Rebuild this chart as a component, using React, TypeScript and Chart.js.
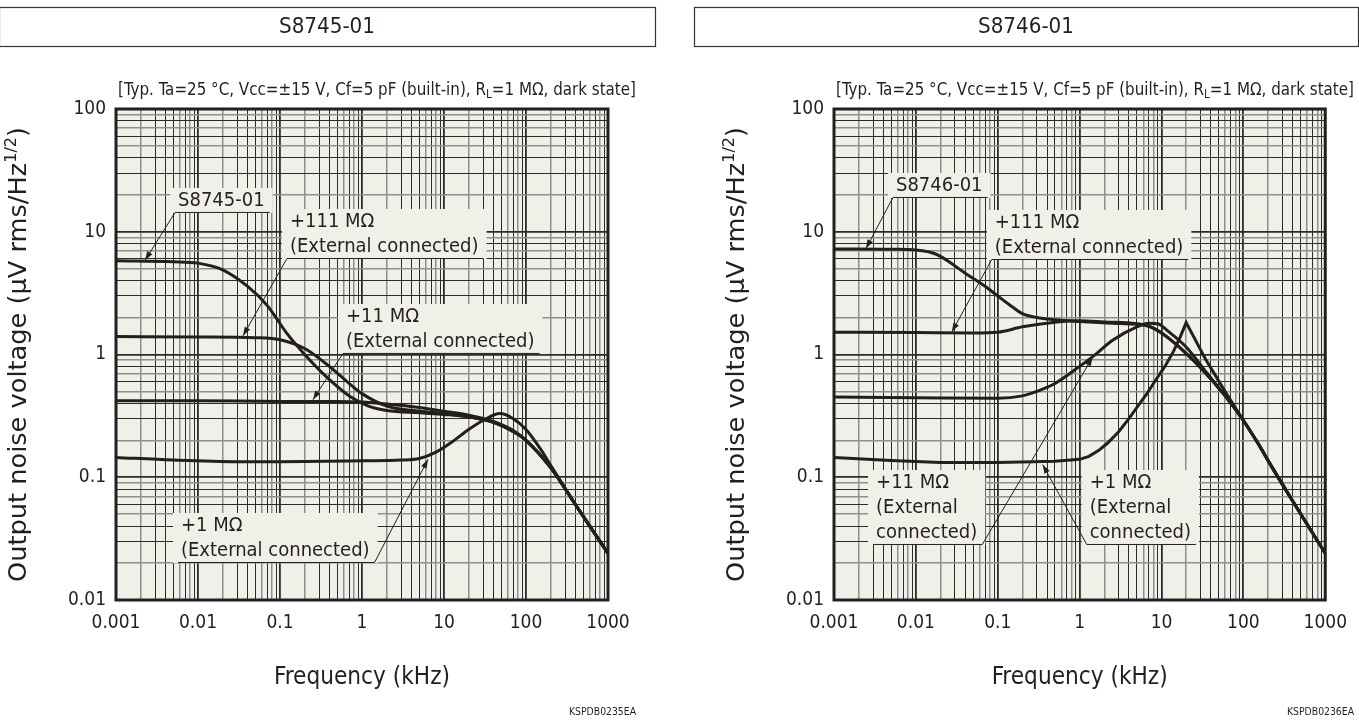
import React, { useEffect, useRef } from 'react';
import { Chart, registerables } from 'chart.js';

Chart.register(...registerables);

const FAMILY = '"DejaVu Sans Condensed", "DejaVu Sans", Tahoma, sans-serif';
const INK = '#231f20';
const PAPER = '#f1f0e8';
const GRID_DARK = '#2b2b2b';
const GRID_GRAY = '#8e8e8e';

// ---------- axis text ----------
const xTickLabels = ['0.001', '0.01', '0.1', '1', '10', '100', '1000'];
const yTickLabels = ['0.01', '0.1', '1', '10', '100'];
const X_MIN = 0.001;
const X_MAX = 1000;
const Y_MIN = 0.01;
const Y_MAX = 100;
const xAxisTitle = 'Frequency (kHz)';
const yAxisTitleMain = 'Output noise voltage (µV rms/Hz';
const yAxisTitleSup = '1/2';
const yAxisTitleEnd = ')';
const conditionParts = ['[Typ. Ta=25 °C, Vcc=±15 V, Cf=5 pF (built-in), R', 'L', '=1 MΩ, dark state]'];

// ---------- S8745-01 panel data (frequency kHz, noise µV rms/Hz^1/2) ----------
const s8745DeviceFreq = [0.001, 0.005, 0.01, 0.02, 0.04, 0.07, 0.12, 0.2, 0.35, 0.7, 1.2, 2, 5, 10, 20, 40, 70, 100, 200, 400, 1000];
const s8745DeviceNoise = [5.8, 5.7, 5.55, 4.9, 3.6, 2.5, 1.5, 1.0, 0.68, 0.46, 0.38, 0.35, 0.335, 0.325, 0.31, 0.28, 0.235, 0.2, 0.12, 0.06, 0.024];
const s8745R111Freq = [0.001, 0.01, 0.05, 0.1, 0.2, 0.4, 0.7, 1, 2, 5, 10, 20, 40, 70, 100, 200, 400, 1000];
const s8745R111Noise = [1.4, 1.39, 1.37, 1.32, 1.12, 0.8, 0.58, 0.48, 0.38, 0.345, 0.33, 0.31, 0.28, 0.235, 0.2, 0.12, 0.06, 0.024];
const s8745R11Freq = [0.001, 0.01, 0.1, 0.5, 1, 2, 5, 10, 20, 40, 70, 100, 200, 400, 1000];
const s8745R11Noise = [0.42, 0.42, 0.415, 0.415, 0.41, 0.395, 0.37, 0.345, 0.32, 0.285, 0.24, 0.2, 0.12, 0.06, 0.024];
const s8745R1Freq = [0.001, 0.005, 0.03, 0.1, 1, 3, 5, 8, 12, 20, 30, 48, 70, 100, 150, 200, 400, 1000];
const s8745R1Noise = [0.145, 0.138, 0.134, 0.134, 0.136, 0.138, 0.142, 0.16, 0.19, 0.245, 0.29, 0.33, 0.3, 0.245, 0.17, 0.125, 0.06, 0.024];

// ---------- S8746-01 panel data ----------
const s8746DeviceFreq = [0.001, 0.005, 0.01, 0.015, 0.02, 0.04, 0.07, 0.1, 0.15, 0.2, 0.3, 0.5, 1, 2.5, 5, 7, 10, 16, 30, 60, 100, 150, 230, 400, 1000];
const s8746DeviceNoise = [7.25, 7.2, 7.1, 6.8, 6.3, 4.6, 3.6, 3.0, 2.45, 2.15, 2.0, 1.92, 1.86, 1.8, 1.76, 1.7, 1.5, 1.17, 0.78, 0.46, 0.29, 0.19, 0.117, 0.064, 0.024];
const s8746R111Freq = [0.001, 0.01, 0.05, 0.1, 0.2, 0.5, 1, 2, 5, 7, 10, 16, 30, 60, 100, 150, 230, 400, 1000];
const s8746R111Noise = [1.52, 1.51, 1.5, 1.52, 1.68, 1.83, 1.88, 1.84, 1.78, 1.7, 1.5, 1.17, 0.78, 0.46, 0.29, 0.19, 0.117, 0.064, 0.024];
const s8746R11Freq = [0.001, 0.01, 0.1, 0.2, 0.3, 0.5, 1, 1.5, 2.5, 5, 7, 9, 12, 20, 35, 60, 100, 150, 230, 400, 1000];
const s8746R11Noise = [0.45, 0.445, 0.44, 0.46, 0.5, 0.58, 0.8, 0.98, 1.3, 1.68, 1.8, 1.78, 1.55, 1.15, 0.72, 0.46, 0.29, 0.19, 0.117, 0.064, 0.024];
const s8746R1Freq = [0.001, 0.005, 0.02, 0.1, 0.5, 1, 1.3, 1.7, 2.2, 3, 4, 5, 6.5, 8.5, 11, 14, 17, 20, 35, 62, 100, 150, 230, 400, 1000];
const s8746R1Noise = [0.145, 0.137, 0.132, 0.132, 0.135, 0.14, 0.148, 0.165, 0.19, 0.235, 0.3, 0.37, 0.47, 0.62, 0.8, 1.06, 1.4, 1.82, 0.9, 0.48, 0.29, 0.19, 0.117, 0.064, 0.024];

type Series = { label: string; freq: number[]; noise: number[]; sharp?: boolean };
type Note = { lines: string[]; x: number; y: number; tipX: number; tipY: number; from: 'start' | 'end' };
type Panel = {
  title: string;
  code: string;
  canvasLeft: number;
  canvasWidth: number;
  plotLeft: number;
  plotRight: number;
  boxLeft: number;
  boxRight: number;
  yTitleX: number;
  series: Series[];
  notes: Note[];
};

const panels: Panel[] = [
  {
    title: 'S8745-01',
    code: 'KSPDB0235EA',
    canvasLeft: 0,
    canvasWidth: 680,
    plotLeft: 116,
    plotRight: 608,
    boxLeft: -1,
    boxRight: 655,
    yTitleX: 20,
    series: [
      { label: 'S8745-01', freq: s8745DeviceFreq, noise: s8745DeviceNoise },
      { label: '+111 MΩ', freq: s8745R111Freq, noise: s8745R111Noise },
      { label: '+11 MΩ', freq: s8745R11Freq, noise: s8745R11Noise },
      { label: '+1 MΩ', freq: s8745R1Freq, noise: s8745R1Noise },
    ],
    notes: [
      { lines: ['S8745-01'], x: 0.00525, y: 14.5, tipX: 0.00226, tipY: 5.85, from: 'start' },
      { lines: ['+111 MΩ', '(External connected)'], x: 0.1216, y: 6.11, tipX: 0.0354, tipY: 1.42, from: 'start' },
      { lines: ['+11 MΩ', '(External connected)'], x: 0.586, y: 1.03, tipX: 0.252, tipY: 0.428, from: 'start' },
      { lines: ['+1 MΩ', '(External connected)'], x: 0.0057, y: 0.0204, tipX: 6.38, tipY: 0.14, from: 'end' },
    ],
  },
  {
    title: 'S8746-01',
    code: 'KSPDB0236EA',
    canvasLeft: 680,
    canvasWidth: 679,
    plotLeft: 154,
    plotRight: 646,
    boxLeft: 14,
    boxRight: 678,
    yTitleX: 58,
    series: [
      { label: 'S8746-01', freq: s8746DeviceFreq, noise: s8746DeviceNoise },
      { label: '+111 MΩ', freq: s8746R111Freq, noise: s8746R111Noise },
      { label: '+11 MΩ', freq: s8746R11Freq, noise: s8746R11Noise },
      { label: '+1 MΩ', freq: s8746R1Freq, noise: s8746R1Noise, sharp: true },
    ],
    notes: [
      { lines: ['S8746-01'], x: 0.00525, y: 19.2, tipX: 0.00246, tipY: 7.3, from: 'start' },
      { lines: ['+111 MΩ', '(External connected)'], x: 0.0845, y: 6.0, tipX: 0.0275, tipY: 1.53, from: 'start' },
      { lines: ['+11 MΩ', '(External', 'connected)'], x: 0.003, y: 0.0286, tipX: 1.44, tipY: 0.95, from: 'end' },
      { lines: ['+1 MΩ', '(External', 'connected)'], x: 1.22, y: 0.0286, tipX: 0.354, tipY: 0.127, from: 'start' },
    ],
  },
];

const PLOT_TOP = 109;
const PLOT_BOTTOM = 600;
const CANVAS_H = 720;
const X_AXIS_H = 40;

function logTicks(min: number, max: number) {
  const out: { value: number }[] = [];
  const e0 = Math.round(Math.log10(min));
  const e1 = Math.round(Math.log10(max));
  for (let e = e0; e < e1; e++) {
    for (let m = 1; m <= 9; m++) out.push({ value: +(m * Math.pow(10, e)).toPrecision(6) });
  }
  out.push({ value: max });
  return out;
}

function mantissa(v: number) {
  const e = Math.floor(Math.log10(v) + 1e-9);
  return Math.round(v / Math.pow(10, e));
}

function decadeLabel(v: number, min: number, labels: string[]) {
  const lg = Math.log10(v);
  if (Math.abs(lg - Math.round(lg)) < 1e-6) {
    return labels[Math.round(lg) - Math.round(Math.log10(min))] ?? '';
  }
  return '';
}

const X_GRAY = [2, 6, 8];
const Y_GRAY = [2, 5, 7, 9];

function gridColor(v: number, gray: number[]) {
  const m = mantissa(v);
  if (m === 1 || m === 10) return GRID_DARK;
  return gray.includes(m) ? GRID_GRAY : GRID_DARK;
}
function gridWidth(v: number, gray: number[]) {
  const m = mantissa(v);
  if (m === 1 || m === 10) return 1.8;
  return gray.includes(m) ? 1.5 : 1;
}

function font(size: number) {
  return `${size}px ${FAMILY}`;
}

function fittedText(ctx: CanvasRenderingContext2D, text: string, x: number, y: number, size: number, align: CanvasTextAlign, width?: number) {
  ctx.save();
  ctx.font = font(size);
  ctx.textAlign = align;
  ctx.textBaseline = 'middle';
  const w = ctx.measureText(text).width;
  const sx = width ? width / w : 1;
  ctx.translate(x, y);
  ctx.scale(sx, 1);
  ctx.fillText(text, 0, 0);
  ctx.restore();
}

function makePlugin(panel: Panel) {
  const noteGeometry = (chart: any, note: Note) => {
    const ctx = chart.ctx as CanvasRenderingContext2D;
    ctx.font = font(20);
    const maxW = Math.max(...note.lines.map((l) => ctx.measureText(l).width));
    const x0 = chart.scales.x.getPixelForValue(note.x);
    const uy = chart.scales.y.getPixelForValue(note.y);
    const x1 = x0 + maxW + 8;
    const n = note.lines.length;
    const top = uy - 24 - (n - 1) * 25;
    return { x0, x1, uy, top, n };
  };
  return {
    id: 'panelDecor',
    beforeDraw(chart: any) {
      const ctx = chart.ctx as CanvasRenderingContext2D;
      const a = chart.chartArea;
      ctx.save();
      ctx.fillStyle = '#ffffff';
      ctx.fillRect(0, 0, chart.width, chart.height);
      ctx.fillStyle = PAPER;
      ctx.fillRect(a.left, a.top, a.right - a.left, a.bottom - a.top);
      ctx.restore();
    },
    beforeDatasetsDraw(chart: any) {
      const ctx = chart.ctx as CanvasRenderingContext2D;
      ctx.save();
      ctx.fillStyle = PAPER;
      for (const note of panel.notes) {
        const g = noteGeometry(chart, note);
        ctx.fillRect(g.x0 - 5, g.top, g.x1 - g.x0 + 8, g.uy + 1 - g.top);
      }
      ctx.restore();
    },
    afterDatasetsDraw(chart: any) {
      const ctx = chart.ctx as CanvasRenderingContext2D;
      const a = chart.chartArea;
      ctx.save();
      for (const note of panel.notes) {
        const g = noteGeometry(chart, note);
        ctx.strokeStyle = INK;
        ctx.fillStyle = INK;
        ctx.lineWidth = 1;
        ctx.beginPath();
        ctx.moveTo(g.x0, g.uy + 0.5);
        ctx.lineTo(g.x1, g.uy + 0.5);
        ctx.stroke();
        ctx.font = font(20);
        ctx.textAlign = 'left';
        ctx.textBaseline = 'middle';
        note.lines.forEach((line, i) => {
          ctx.fillText(line, g.x0 + 3, g.uy - 11 - (g.n - 1 - i) * 25);
        });
        const sx = note.from === 'start' ? g.x0 : g.x1;
        const tx = chart.scales.x.getPixelForValue(note.tipX);
        const ty = chart.scales.y.getPixelForValue(note.tipY);
        ctx.beginPath();
        ctx.moveTo(sx, g.uy + 0.5);
        ctx.lineTo(tx, ty);
        ctx.stroke();
        const ang = Math.atan2(ty - g.uy, tx - sx);
        const L = 9;
        const W = 3;
        ctx.beginPath();
        ctx.moveTo(tx, ty);
        ctx.lineTo(tx - L * Math.cos(ang) + W * Math.sin(ang), ty - L * Math.sin(ang) - W * Math.cos(ang));
        ctx.lineTo(tx - L * Math.cos(ang) - W * Math.sin(ang), ty - L * Math.sin(ang) + W * Math.cos(ang));
        ctx.closePath();
        ctx.fill();
      }
      ctx.strokeStyle = INK;
      ctx.lineWidth = 3;
      ctx.strokeRect(a.left, a.top, a.right - a.left, a.bottom - a.top);
      ctx.restore();
    },
    afterDraw(chart: any) {
      const ctx = chart.ctx as CanvasRenderingContext2D;
      const a = chart.chartArea;
      ctx.save();
      ctx.fillStyle = INK;
      ctx.strokeStyle = '#333333';
      ctx.lineWidth = 1.2;
      ctx.strokeRect(panel.boxLeft + 0.5, 7.5, panel.boxRight - panel.boxLeft, 39);
      fittedText(ctx, panel.title, (panel.boxLeft + panel.boxRight) / 2, 27, 22, 'center', 96);
      ctx.font = font(17);
      const w0 = ctx.measureText(conditionParts[0]).width;
      const w2 = ctx.measureText(conditionParts[2]).width;
      ctx.font = font(12);
      const w1 = ctx.measureText(conditionParts[1]).width;
      const total = w0 + w1 + w2;
      const target = 518;
      ctx.save();
      ctx.translate(a.left + 2, 91);
      ctx.scale(target / total, 1);
      ctx.textAlign = 'left';
      ctx.textBaseline = 'middle';
      ctx.font = font(17);
      ctx.fillText(conditionParts[0], 0, 0);
      ctx.font = font(12);
      ctx.fillText(conditionParts[1], w0, 4);
      ctx.font = font(17);
      ctx.fillText(conditionParts[2], w0 + w1, 0);
      ctx.restore();
      fittedText(ctx, xAxisTitle, (a.left + a.right) / 2, 678, 24, 'center', 176);
      ctx.save();
      ctx.font = font(24);
      const m0 = ctx.measureText(yAxisTitleMain).width;
      const m2 = ctx.measureText(yAxisTitleEnd).width;
      ctx.font = font(15);
      const m1 = ctx.measureText(yAxisTitleSup).width;
      const len = m0 + m1 + m2;
      const targetLen = 455;
      ctx.translate(panel.yTitleX, (a.top + a.bottom) / 2);
      ctx.rotate(-Math.PI / 2);
      ctx.scale(targetLen / len, 1);
      ctx.translate(-len / 2, 0);
      ctx.textAlign = 'left';
      ctx.textBaseline = 'middle';
      ctx.font = font(24);
      ctx.fillText(yAxisTitleMain, 0, 0);
      ctx.font = font(15);
      ctx.fillText(yAxisTitleSup, m0, -8);
      ctx.font = font(24);
      ctx.fillText(yAxisTitleEnd, m0 + m1, 0);
      ctx.restore();
      fittedText(ctx, panel.code, panel.plotRight + 28, 712, 10, 'right', 67);
      ctx.restore();
    },
  };
}

function PanelChart({ panel }: { panel: Panel }) {
  const ref = useRef<HTMLCanvasElement | null>(null);
  useEffect(() => {
    const canvas = ref.current;
    if (!canvas) return;
    const datasets = panel.series.map((s) => ({
      label: s.label,
      data: s.freq.map((f, i) => ({ x: f, y: s.noise[i] })),
      borderColor: INK,
      borderWidth: 3,
      pointRadius: 0,
      fill: false,
      tension: s.sharp ? 0 : 0.4,
      cubicInterpolationMode: s.sharp ? ('default' as const) : ('monotone' as const),
    }));
    const chart = new Chart(canvas, {
      type: 'line',
      data: { datasets },
      options: {
        responsive: false,
        animation: false,
        events: [],
        layout: {
          padding: {
            left: 0,
            right: panel.canvasWidth - panel.plotRight,
            top: PLOT_TOP,
            bottom: CANVAS_H - PLOT_BOTTOM - X_AXIS_H,
          },
        },
        plugins: { legend: { display: false }, tooltip: { enabled: false } },
        scales: {
          x: {
            type: 'logarithmic',
            min: X_MIN,
            max: X_MAX,
            afterBuildTicks: (scale: any) => {
              scale.ticks = logTicks(X_MIN, X_MAX);
            },
            afterFit: (scale: any) => {
              scale.height = X_AXIS_H;
            },
            ticks: {
              autoSkip: false,
              maxRotation: 0,
              padding: 12,
              color: INK,
              font: { family: FAMILY, size: 19 },
              callback: (v: any) => decadeLabel(Number(v), X_MIN, xTickLabels),
            },
            grid: {
              drawTicks: false,
              color: (c: any) => (c.tick ? gridColor(c.tick.value, X_GRAY) : GRID_DARK),
              lineWidth: (c: any) => (c.tick ? gridWidth(c.tick.value, X_GRAY) : 1),
            },
            border: { display: false },
          },
          y: {
            type: 'logarithmic',
            min: Y_MIN,
            max: Y_MAX,
            afterBuildTicks: (scale: any) => {
              scale.ticks = logTicks(Y_MIN, Y_MAX);
            },
            afterFit: (scale: any) => {
              scale.width = panel.plotLeft;
            },
            ticks: {
              autoSkip: false,
              padding: 10,
              color: INK,
              font: { family: FAMILY, size: 19 },
              callback: (v: any) => decadeLabel(Number(v), Y_MIN, yTickLabels),
            },
            grid: {
              drawTicks: false,
              color: (c: any) => (c.tick ? gridColor(c.tick.value, Y_GRAY) : GRID_DARK),
              lineWidth: (c: any) => (c.tick ? gridWidth(c.tick.value, Y_GRAY) : 1),
            },
            border: { display: false },
          },
        },
      },
      plugins: [makePlugin(panel)],
    } as any);
    return () => chart.destroy();
  }, [panel]);
  return (
    <canvas
      ref={ref}
      width={panel.canvasWidth}
      height={CANVAS_H}
      style={{ position: 'absolute', left: panel.canvasLeft, top: 0, width: panel.canvasWidth, height: CANVAS_H }}
    />
  );
}

export default function App() {
  return (
    <div style={{ position: 'absolute', left: 0, top: 0, width: 1359, height: 720, background: '#ffffff', overflow: 'hidden' }}>
      {panels.map((p) => (
        <PanelChart key={p.title} panel={p} />
      ))}
    </div>
  );
}
